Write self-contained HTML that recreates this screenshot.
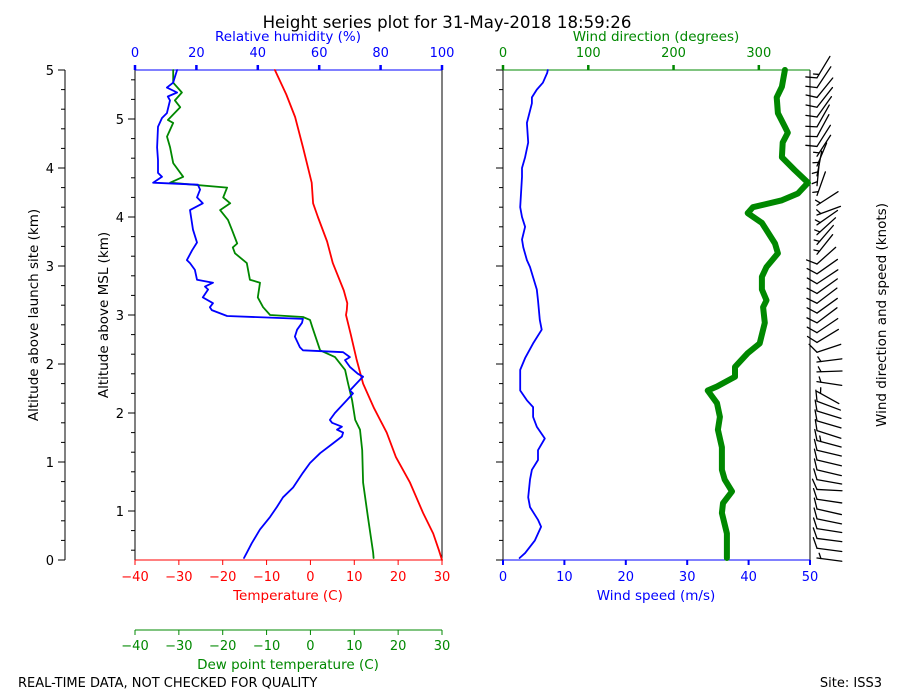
<!DOCTYPE html>
<html><head><meta charset="utf-8"><style>
html,body{margin:0;padding:0;background:#fff;}
svg{display:block;font-family:"DejaVu Sans","Liberation Sans",sans-serif;}
</style></head><body>
<svg id="c" width="900" height="700" xmlns="http://www.w3.org/2000/svg"></svg>
<script>
// ---- data (altitude AGL km) ----
const tempAlt=[0,0.1,0.27,0.48,0.79,1.05,1.3,1.55,1.8,2.05,2.3,2.5,2.55,2.62,2.75,3.03,3.25,3.5,3.64,3.85,4.21,4.52,4.75,5];
const tempVal=[30,29.3,28,25.7,22.7,19.5,17.4,14.5,12,10.5,9.2,8.1,8.3,8.4,7.6,5.1,3.8,1.7,0.6,0.3,-1.7,-3.5,-5.5,-8.1];
const dewAlt=[0.02,0.08,0.44,0.79,1.12,1.33,1.43,1.63,1.8,1.94,2.07,2.14,2.38,2.45,2.48,2.5,2.58,2.68,2.83,2.86,3.03,3.13,3.19,3.23,3.37,3.47,3.57,3.64,3.7,3.8,3.85,3.91,4.05,4.21,4.32,4.46,4.49,4.62,4.69,4.77,4.87,5];
const dewVal=[14.4,14.3,13.1,12,11.8,11.3,10.2,9.5,8.6,7.9,5.6,2.2,0.4,-0.1,-1.7,-9.2,-10.8,-12,-11.5,-13.8,-14.5,-17.2,-17.7,-16.7,-17.9,-18.8,-20.6,-18.3,-19.9,-19,-32,-29,-31.3,-32,-32.7,-31.3,-32.5,-29.7,-30.9,-29.3,-31.3,-31.3];
const rhAlt=[0.02,0.08,0.17,0.31,0.44,0.54,0.64,0.74,0.89,0.99,1.09,1.19,1.26,1.3,1.33,1.36,1.4,1.43,1.5,1.63,1.7,1.73,1.84,1.87,1.9,1.97,2.04,2.07,2.12,2.14,2.17,2.28,2.35,2.42,2.46,2.49,2.55,2.58,2.62,2.68,2.76,2.79,2.83,2.86,2.96,3.03,3.06,3.16,3.24,3.37,3.57,3.64,3.7,3.78,3.83,3.85,3.91,3.95,4.08,4.21,4.42,4.51,4.56,4.69,4.73,4.77,4.82,4.87,5];
const rhVal=[35.5,36.5,38,40.7,44,46.2,48.2,51.5,54.7,57,60.3,64.5,67.4,67.8,65.8,67.4,64.2,63.5,65.1,69,71,70,73.3,74.3,72.6,70,68.4,70,67.8,54.7,53.7,52.1,52.8,54.4,54.7,30,25,24.4,25.4,22.1,23.8,22.8,25.4,20.2,19.5,17.9,16.9,18.6,20.2,18.9,17.9,22.1,20.2,21.2,20.5,5.9,8.8,7.5,7.5,7.2,7.5,8.8,10.4,11.4,10.7,13.7,10.4,12.4,13.7];
const spdAlt=[0.02,0.07,0.2,0.34,0.41,0.54,0.64,0.82,0.92,1.02,1.12,1.24,1.36,1.46,1.56,1.63,1.73,1.94,2.06,2.21,2.35,2.45,2.65,2.76,2.99,3.06,3.19,3.27,3.4,3.5,3.6,3.91,4.0,4.11,4.26,4.46,4.66,4.72,4.8,4.87,4.97,5];
const spdVal=[2.7,3.6,5.2,6.2,5.7,4.4,4.1,4.4,4.7,5.7,5.7,6.8,5.5,4.9,4.9,3.9,2.8,2.8,3.6,4.9,6.3,6.0,5.7,5.5,4.4,3.9,3.3,3.1,3.6,3.1,2.8,3.1,3.1,3.6,4.1,3.9,4.7,4.7,5.5,6.5,7.2,7.3];
const dirAlt=[0.02,0.27,0.48,0.58,0.7,0.82,0.92,1.15,1.33,1.46,1.6,1.73,1.77,1.87,1.97,2.11,2.21,2.42,2.58,2.65,2.76,2.89,2.99,3.13,3.23,3.44,3.54,3.6,3.67,3.74,3.85,3.98,4.11,4.26,4.36,4.42,4.56,4.72,4.83,5];
const dirVal=[262.6,262.6,256.7,258,268.5,260,256.7,256.7,252,254.4,251,240,251,272,272,287,301,307,305,309,303.6,303.6,309,322.4,318.9,303.6,287,293,327,345.8,357.6,342,327,328,334,330.6,322.4,321,327,330.6];
const tempTicks=[-40,-30,-20,-10,0,10,20,30];
const rhTicks=[0,20,40,60,80,100];
const spdTicks=[0,10,20,30,40,50];
const dirTicks=[0,100,200,300];
const aglTicks=[0,1,2,3,4,5];
const mslTicks=[1,2,3,4,5];

const NS="http://www.w3.org/2000/svg";
const svg=document.getElementById('c');
function mk(tag,attrs,parent){const e=document.createElementNS(NS,tag);for(const k in attrs)e.setAttribute(k,attrs[k]);(parent||svg).appendChild(e);return e;}
function txt(s,x,y,attrs,parent){const e=mk('text',Object.assign({x:x,y:y,'font-size':13},attrs),parent);e.textContent=s;return e;}

const Y0=560,Y1=70;
const yA=a=>Y0-(a/5)*(Y0-Y1);
const xT=t=>135+(t+40)/70*307;
const xRH=r=>135+r/100*307;
const xS=s=>503+s/50*307;
const xD=d=>503+d/360*307;

function poly(alts,vals,fx,color,w,name){
  const pts=alts.map((a,i)=>fx(vals[i]).toFixed(1)+','+yA(a).toFixed(1)).join(' ');
  const p=mk('polyline',{points:pts,fill:'none',stroke:color,'stroke-width':w,'stroke-linejoin':'round','stroke-linecap':'round'});
  
  
}

let t=txt('Height series plot for 31-May-2018 18:59:26',447,28,{'font-size':16.6,'text-anchor':'middle'});


mk('line',{x1:65,y1:Y1,x2:65,y2:Y0,stroke:'#000'});
for(let a=0;a<=5.001;a+=0.2){mk('line',{x1:65,y1:yA(a),x2:61,y2:yA(a),stroke:'#000'});}
aglTicks.forEach(v=>{mk('line',{x1:65,y1:yA(v),x2:58,y2:yA(v),stroke:'#000'});t=txt(String(v),54,yA(v)+5,{'text-anchor':'end'});});
t=txt('Altitude above launch site (km)',0,0,{'font-size':13.5,'text-anchor':'middle',transform:'translate(38,315) rotate(-90)'});


const g1=mk('g',{});
mk('line',{x1:135,y1:Y1,x2:135,y2:Y0,stroke:'#000'},g1);
mk('line',{x1:442,y1:Y1,x2:442,y2:Y0,stroke:'#000'},g1);
for(let m=0.6;m<=5.5001;m+=0.2){mk('line',{x1:135,y1:yA(m-0.5),x2:131,y2:yA(m-0.5),stroke:'#000'},g1);}
mslTicks.forEach(v=>{mk('line',{x1:135,y1:yA(v-0.5),x2:128,y2:yA(v-0.5),stroke:'#000'},g1);t=txt(String(v),124,yA(v-0.5)+5,{'text-anchor':'end'},g1);});
t=txt('Altitude above MSL (km)',0,0,{'font-size':13.5,'text-anchor':'middle',transform:'translate(108,315) rotate(-90)'});

mk('line',{x1:135,y1:Y1,x2:442,y2:Y1,stroke:'#00f'},g1);
rhTicks.forEach(v=>{mk('line',{x1:xRH(v),y1:Y1,x2:xRH(v),y2:Y1-5,stroke:'#00f','stroke-width':2.5},g1);t=txt(String(v),xRH(v),57,{'text-anchor':'middle',fill:'#00f'},g1);});
t=txt('Relative humidity (%)',288,41,{'font-size':13.5,'text-anchor':'middle',fill:'#00f'});

mk('line',{x1:135,y1:Y0,x2:442,y2:Y0,stroke:'#f00'},g1);
tempTicks.forEach(v=>{mk('line',{x1:xT(v),y1:Y0,x2:xT(v),y2:Y0+5,stroke:'#f00'},g1);t=txt(String(v).replace('-','\u2212'),xT(v),581,{'text-anchor':'middle',fill:'#f00'},g1);});
t=txt('Temperature (C)',288,600,{'font-size':13.5,'text-anchor':'middle',fill:'#f00'});

mk('line',{x1:135,y1:630,x2:442,y2:630,stroke:'#080'},g1);
tempTicks.forEach(v=>{mk('line',{x1:xT(v),y1:630,x2:xT(v),y2:635,stroke:'#080'},g1);t=txt(String(v).replace('-','\u2212'),xT(v),650,{'text-anchor':'middle',fill:'#080'},g1);});
t=txt('Dew point temperature (C)',288,669,{'font-size':13.5,'text-anchor':'middle',fill:'#080'});


poly(tempAlt,tempVal,xT,'#f00',1.8,'temperature-line');
poly(dewAlt,dewVal,xT,'#080',1.8,'dewpoint-line');
poly(rhAlt,rhVal,xRH,'#00f',1.8,'rh-line');

const g2=mk('g',{});
mk('line',{x1:503,y1:Y1,x2:503,y2:Y0,stroke:'#000'},g2);
mk('line',{x1:810,y1:Y1,x2:810,y2:Y0,stroke:'#000'},g2);
for(let a=0;a<=5.001;a+=0.2){mk('line',{x1:503,y1:yA(a),x2:499,y2:yA(a),stroke:'#000'},g2);}
for(let a=0;a<=5.001;a+=1){mk('line',{x1:503,y1:yA(a),x2:496,y2:yA(a),stroke:'#000'},g2);}
mk('line',{x1:503,y1:Y1,x2:810,y2:Y1,stroke:'#080'},g2);
dirTicks.forEach(v=>{mk('line',{x1:xD(v),y1:Y1,x2:xD(v),y2:Y1-5,stroke:'#080','stroke-width':2.5},g2);t=txt(String(v),xD(v),57,{'text-anchor':'middle',fill:'#080'},g2);});
t=txt('Wind direction (degrees)',656,41,{'font-size':13.5,'text-anchor':'middle',fill:'#080'});

mk('line',{x1:503,y1:Y0,x2:810,y2:Y0,stroke:'#00f'},g2);
spdTicks.forEach(v=>{mk('line',{x1:xS(v),y1:Y0,x2:xS(v),y2:Y0+5,stroke:'#00f','stroke-width':2},g2);t=txt(String(v),xS(v),581,{'text-anchor':'middle',fill:'#00f'},g2);});
t=txt('Wind speed (m/s)',656,600,{'font-size':13.5,'text-anchor':'middle',fill:'#00f'});

poly(spdAlt,spdVal,xS,'#00f',1.8,'wind-speed-line');
poly(dirAlt,dirVal,xD,'#080',6,'wind-direction-line');

function interp(al,vl,a){if(a<=al[0])return vl[0];for(let i=1;i<al.length;i++){if(a<=al[i]){const f=(a-al[i-1])/(al[i]-al[i-1]);return vl[i-1]+f*(vl[i]-vl[i-1]);}}return vl[vl.length-1];}
const gb=mk('g',{stroke:'#000','stroke-width':1.3,fill:'none','stroke-linecap':'round'});

for(let a=0.02;a<=5.0;a+=0.1){
  const d=interp(dirAlt,dirVal,a)*Math.PI/180,s=interp(spdAlt,spdVal,a)*1.944;
  const bx=817,by=yA(a),L=25;
  const ux=-Math.sin(d),uy=-Math.cos(d);
  mk('line',{x1:bx,y1:by,x2:bx+ux*L,y2:by+uy*L},gb);
  let kt=Math.round(s/5)*5,pos=0;
  const px=uy,py=-ux;
  while(kt>=10){const sx=bx+ux*pos*4,sy=by+uy*pos*4;mk('line',{x1:sx,y1:sy,x2:sx+px*10-ux*5,y2:sy+py*10-uy*5},gb);kt-=10;pos++;}
  if(kt>=5){if(pos===0)pos=1;const sx=bx+ux*pos*4,sy=by+uy*pos*4;mk('line',{x1:sx,y1:sy,x2:sx+px*5-ux*2.5,y2:sy+py*5-uy*2.5},gb);}
}
t=txt('Wind direction and speed (knots)',0,0,{'font-size':13.5,'text-anchor':'middle',transform:'translate(886,315) rotate(-90)'});


t=txt('REAL-TIME DATA, NOT CHECKED FOR QUALITY',18,687,{});

t=txt('Site: ISS3',882,687,{'text-anchor':'end'});

</script>
</body></html>
